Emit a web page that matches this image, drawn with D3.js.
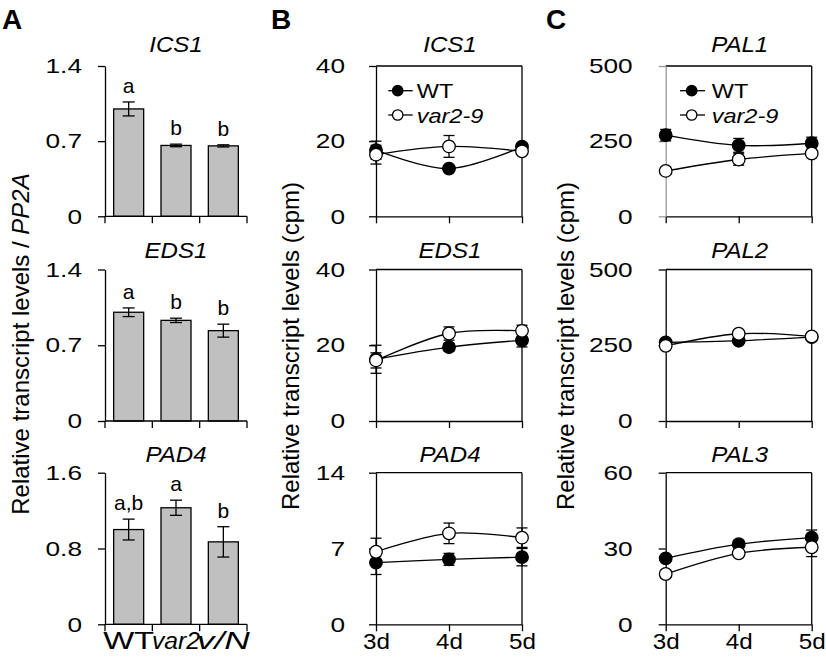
<!DOCTYPE html>
<html><head><meta charset="utf-8">
<script src="https://cdn.jsdelivr.net/npm/d3@7"></script>
<style>
body{margin:0;background:#fff}
text{font-family:Arial,"Liberation Sans",sans-serif;fill:#000}
</style>
</head><body>
<svg id="c" width="826" height="661"></svg>
<script>
// ---------- DATA ----------
const groupsA = ["WT", "var2", "v/N"];
const genesA = ["ICS1", "EDS1", "PAD4"];
const ics1A = [1.00, 0.66, 0.656];
const ics1AErr = [0.065, 0.012, 0.01];
const ics1ALetters = ["a", "b", "b"];
const eds1A = [1.005, 0.93, 0.835];
const eds1AErr = [0.04, 0.02, 0.06];
const eds1ALetters = ["a", "b", "b"];
const pad4A = [1.0, 1.23, 0.87];
const pad4AErr = [0.11, 0.08, 0.16];
const pad4ALetters = ["a,b", "a", "b"];
const yMaxA = [1.4, 1.4, 1.6];
const yTicksA = [[0, 0.7, 1.4], [0, 0.7, 1.4], [0, 0.8, 1.6]];

const days = ["3d", "4d", "5d"];
const seriesNames = ["WT", "var2-9"];
const genesB = ["ICS1", "EDS1", "PAD4"];
const wtICS1 = [17.6, 12.7, 18.5];
const wtICS1Err = [2.4, 0.6, 0.8];
const varICS1 = [16.4, 18.6, 17.3];
const varICS1Err = [2.5, 2.9, 0.8];
const wtEDS1 = [16.3, 19.5, 21.3];
const wtEDS1Err = [3.7, 1.0, 1.75];
const varEDS1 = [16.0, 23.1, 23.8];
const varEDS1Err = [2.0, 1.75, 1.5];
const wtPAD4 = [5.7, 6.0, 6.2];
const wtPAD4Err = [1.1, 0.55, 0.8];
const varPAD4 = [6.7, 8.4, 8.0];
const varPAD4Err = [1.25, 0.95, 0.9];
const yMaxB = [40, 40, 14];
const yTicksB = [[0, 20, 40], [0, 20, 40], [0, 7, 14]];

const genesC = ["PAL1", "PAL2", "PAL3"];
const wtPAL1 = [270, 236, 243];
const wtPAL1Err = [19, 23, 20];
const varPAL1 = [151, 189, 209];
const varPAL1Err = [8, 19, 8];
const wtPAL2 = [259, 265, 277];
const wtPAL2Err = [8, 6, 8];
const varPAL2 = [248, 288, 279];
const varPAL2Err = [6, 8, 8];
const wtPAL3 = [26.1, 31.7, 34.3];
const wtPAL3Err = [1.2, 1.5, 3.0];
const varPAL3 = [19.9, 28.1, 30.5];
const varPAL3Err = [1.5, 1.2, 3.7];
const yMaxC = [500, 500, 60];
const yTicksC = [[0, 250, 500], [0, 250, 500], [0, 30, 60]];

// ---------- LAYOUT ----------
const svg = d3.select("#c");
const rowTop = [66, 269.5, 472.7];
const rowBot = [216.3, 421, 624.3];
const titleOff = [14.5, 11.5, 11];
const TICK_FS = 21, TICK_SX = 1.25;
const TITLE_FS = 21.5, TITLE_SX = 1.12;
const LW = 1.3;

function stretchTicks(g, k) {
  g.selectAll(".tick text").each(function () {
    const t = d3.select(this);
    const x = +t.attr("x") || 0;
    t.attr("x", x / k).attr("transform", `scale(${k},1)`);
  });
}
function sText(parent, x, y, str, opts) {
  const k = opts.sx || 1;
  const t = parent.append("text")
    .attr("transform", `translate(${x},${y}) scale(${k},1)`)
    .attr("text-anchor", opts.anchor || "middle")
    .style("font-size", (opts.fs || 21) + "px")
    .style("font-style", opts.italic ? "italic" : "normal")
    .style("font-weight", opts.bold ? "bold" : "normal")
    .text(str);
  return t;
}
function yAxis(g, y, ticks, pad, color) {
  const ax = g.append("g")
    .call(d3.axisLeft(y).tickValues(ticks).tickSize(7).tickSizeOuter(0).tickPadding(pad)
      .tickFormat(d => String(d)));
  ax.selectAll("path,line").attr("stroke", color || "#000").attr("stroke-width", LW);
  ax.selectAll("text").style("font-size", TICK_FS + "px").style("font-family", "Arial, 'Liberation Sans', sans-serif");
  stretchTicks(ax, TICK_SX);
  return ax;
}

// ---------- PANEL LETTERS ----------
sText(svg, 2, 29, "A", {fs: 28, bold: true, anchor: "start"});
sText(svg, 271, 29, "B", {fs: 28, bold: true, anchor: "start"});
sText(svg, 546, 29, "C", {fs: 28, bold: true, anchor: "start"});

// ---------- Y TITLES ----------
function yTitle(x, cy, parts) {
  const t = svg.append("text")
    .attr("transform", `translate(${x},${cy}) rotate(-90)`)
    .attr("text-anchor", "middle")
    .style("font-size", "24px");
  parts.forEach(p => t.append("tspan").style("font-style", p[1] ? "italic" : "normal").text(p[0]));
}
yTitle(29, 344, [["Relative transcript levels / ", false], ["PP2A", true]]);
yTitle(299, 346, [["Relative transcript levels (cpm)", false]]);
yTitle(574, 346, [["Relative transcript levels (cpm)", false]]);

// ---------- PANEL A ----------
const dataA = [
  {v: ics1A, e: ics1AErr, l: ics1ALetters},
  {v: eds1A, e: eds1AErr, l: eds1ALetters},
  {v: pad4A, e: pad4AErr, l: pad4ALetters}
];
const xA = d3.scaleBand().domain(groupsA).range([105, 247]).paddingInner(0.366).paddingOuter(0.183);
dataA.forEach((d, r) => {
  const g = svg.append("g");
  const y = d3.scaleLinear().domain([0, yMaxA[r]]).range([rowBot[r], rowTop[r]]);
  const bw = xA.bandwidth();
  // bars
  g.selectAll("rect").data(groupsA).join("rect")
    .attr("x", c => xA(c)).attr("width", bw)
    .attr("y", (c, i) => y(d.v[i])).attr("height", (c, i) => y(0) - y(d.v[i]))
    .attr("fill", "#c0c0c0").attr("stroke", "#000").attr("stroke-width", LW);
  // error bars
  groupsA.forEach((c, i) => {
    const cx = xA(c) + bw / 2;
    const hi = y(d.v[i] + d.e[i]), lo = y(d.v[i] - d.e[i]);
    g.append("line").attr("x1", cx).attr("x2", cx).attr("y1", hi).attr("y2", lo).attr("stroke", "#000").attr("stroke-width", LW);
    [hi, lo].forEach(yy => g.append("line").attr("x1", cx - 6).attr("x2", cx + 6).attr("y1", yy).attr("y2", yy).attr("stroke", "#000").attr("stroke-width", LW));
    sText(g, cx, hi - 9, d.l[i], {fs: 21});
  });
  // x axis line with ticks at band edges
  const edges = groupsA.map(c => xA(c) + bw / 2 - xA.step() / 2);
  edges.push(edges[edges.length - 1] + xA.step());
  g.append("line").attr("x1", edges[0]).attr("x2", edges[edges.length - 1]).attr("y1", y(0)).attr("y2", y(0)).attr("stroke", "#000").attr("stroke-width", LW);
  edges.forEach(ex => g.append("line").attr("x1", ex).attr("x2", ex).attr("y1", y(0)).attr("y2", y(0) + 7).attr("stroke", "#000").attr("stroke-width", LW));
  // y axis
  const ya = svg.append("g").attr("transform", "translate(105,0)");
  yAxis(ya, y, yTicksA[r], 16);
  // title
  sText(svg, 176, rowTop[r] - titleOff[r], genesA[r], {fs: TITLE_FS, italic: true, sx: TITLE_SX});
  if (r === 2) {
    const lens = [51, 48, 53];
    groupsA.forEach((c, i) => {
      svg.append("text").attr("x", xA(c) + bw / 2 - lens[i] / 2).attr("y", 649)
        .attr("text-anchor", "start")
        .attr("textLength", lens[i]).attr("lengthAdjust", "spacingAndGlyphs")
        .style("font-size", "23px").style("font-style", i === 0 ? "normal" : "italic")
        .text(c);
    });
  }
});

// ---------- LINE PANELS ----------
function linePanel(x0, x1, r, yMax, ticks, title, wt, wtE, vr, vrE, opts) {
  const g = svg.append("g");
  const x = d3.scalePoint().domain(days).range([x0, x1]);
  const y = d3.scaleLinear().domain([0, yMax]).range([rowBot[r], rowTop[r]]);
  // frame (top & right)
  g.append("line").attr("x1", x0).attr("x2", x1).attr("y1", y(yMax)).attr("y2", y(yMax)).attr("stroke", "#000").attr("stroke-width", LW);
  g.append("line").attr("x1", x1).attr("x2", x1).attr("y1", y(yMax)).attr("y2", y(0)).attr("stroke", "#000").attr("stroke-width", LW);
  // x axis
  const xa = g.append("g").attr("transform", `translate(0,${y(0)})`)
    .call(d3.axisBottom(x).tickSize(7).tickSizeOuter(0).tickPadding(2));
  xa.selectAll("path,line").attr("stroke", "#000").attr("stroke-width", LW);
  xa.selectAll("text").style("font-size", "22px").style("font-family", "Arial, 'Liberation Sans', sans-serif");
  stretchTicks(xa, 1.1);
  if (r !== 2) xa.selectAll("text").remove();
  // y axis
  const ya = g.append("g").attr("transform", `translate(${x0},0)`);
  yAxis(ya, y, ticks, opts.pad, opts.axisColor);
  // title
  sText(g, (x0 + x1) / 2 + 1, rowTop[r] - titleOff[r], title, {fs: TITLE_FS, italic: true, sx: TITLE_SX});
  const line = d3.line().x((d, i) => x(days[i])).y(d => y(d)).curve(d3.curveCatmullRom.alpha(0.5));
  const series = [{v: wt, e: wtE, fill: "#000"}, {v: vr, e: vrE, fill: "#fff"}];
  series.forEach(s => {
    days.forEach((dd, i) => {
      const cx = x(dd), hi = y(s.v[i] + s.e[i]), lo = y(s.v[i] - s.e[i]);
      g.append("line").attr("x1", cx).attr("x2", cx).attr("y1", hi).attr("y2", lo).attr("stroke", "#000").attr("stroke-width", LW);
      [hi, lo].forEach(yy => g.append("line").attr("x1", cx - 5.5).attr("x2", cx + 5.5).attr("y1", yy).attr("y2", yy).attr("stroke", "#000").attr("stroke-width", LW));
    });
  });
  series.forEach(s => {
    g.append("path").attr("d", line(s.v)).attr("fill", "none").attr("stroke", "#000").attr("stroke-width", LW);
  });
  series.forEach(s => {
    g.selectAll(null).data(s.v).join("circle")
      .attr("cx", (d, i) => x(days[i])).attr("cy", d => y(d)).attr("r", 6.3)
      .attr("fill", s.fill).attr("stroke", "#000").attr("stroke-width", LW);
  });
  if (opts.legend) {
    const L = opts.legend;
    [0, 1].forEach(k => {
      const yy = rowTop[r] + 24.7 + k * 24.3;
      g.append("line").attr("x1", x0 + L.l0).attr("x2", x0 + L.l1).attr("y1", yy).attr("y2", yy).attr("stroke", "#000").attr("stroke-width", LW);
      g.append("circle").attr("cx", x0 + L.c).attr("cy", yy).attr("r", 5.2)
        .attr("fill", k === 0 ? "#000" : "#fff").attr("stroke", "#000").attr("stroke-width", LW);
      sText(g, x0 + L.t, yy + 7.5, seriesNames[k], {fs: 21, sx: 1.12, anchor: "start", italic: k === 1});
    });
  }
}

const bX0 = 376, bX1 = 522, cX0 = 665.7, cX1 = 811.7;
linePanel(bX0, bX1, 0, yMaxB[0], yTicksB[0], genesB[0], wtICS1, wtICS1Err, varICS1, varICS1Err, {pad: 24, legend: {l0: 12.3, l1: 36.7, c: 21.7, t: 40.7}});
linePanel(bX0, bX1, 1, yMaxB[1], yTicksB[1], genesB[1], wtEDS1, wtEDS1Err, varEDS1, varEDS1Err, {pad: 24});
linePanel(bX0, bX1, 2, yMaxB[2], yTicksB[2], genesB[2], wtPAD4, wtPAD4Err, varPAD4, varPAD4Err, {pad: 24});
linePanel(cX0, cX1, 0, yMaxC[0], yTicksC[0], genesC[0], wtPAL1, wtPAL1Err, varPAL1, varPAL1Err, {pad: 26, axisColor: "#999", legend: {l0: 14.3, l1: 39.3, c: 26, t: 46}});
linePanel(cX0, cX1, 1, yMaxC[1], yTicksC[1], genesC[1], wtPAL2, wtPAL2Err, varPAL2, varPAL2Err, {pad: 26});
linePanel(cX0, cX1, 2, yMaxC[2], yTicksC[2], genesC[2], wtPAL3, wtPAL3Err, varPAL3, varPAL3Err, {pad: 26});
</script>
</body></html>
